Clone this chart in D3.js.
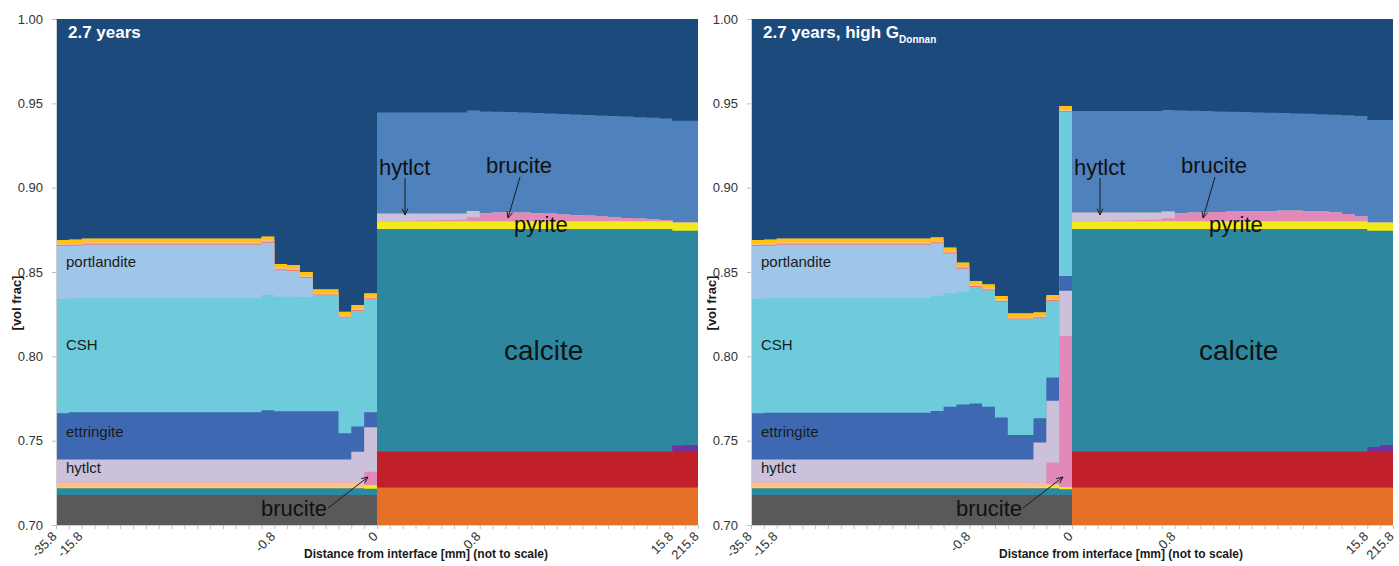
<!DOCTYPE html>
<html>
<head>
<meta charset="utf-8">
<script src="https://cdn.jsdelivr.net/npm/d3@7"></script>
<style>
  body { margin: 0; background: #fff; }
  svg { display: block; font-family: "Liberation Sans", Arial, sans-serif; }
</style>
</head>
<body>
<svg id="chart" width="1399" height="566"></svg>
<script>
// ---- grid: cell edges in mm from the cement/rock interface (non-uniform, not to scale)
const cellEdges = [-35.8, -25.8, -15.8, -14.8, -13.8, -12.8, -11.8, -10.8, -9.8, -8.8, -7.8, -6.8, -5.8, -4.8, -3.8, -2.8, -1.8, -0.8,
  -0.7, -0.6, -0.5, -0.4, -0.3, -0.2, -0.1, 0, 0.1, 0.2, 0.3, 0.4, 0.5, 0.6, 0.7, 0.8,
  1.8, 2.8, 3.8, 4.8, 5.8, 6.8, 7.8, 8.8, 9.8, 10.8, 11.8, 12.8, 13.8, 14.8, 15.8, 115.8, 215.8];
const labelledEdges = ["-35.8", "-15.8", "-0.8", "0", "0.8", "15.8", "215.8"];
const yTicks = [0.70, 0.75, 0.80, 0.85, 0.90, 0.95, 1.00];

// ---- volume fractions per cell (cells 0-24 cement, 25-49 rock)
// phases common to both runs
const inert = [0.7178,0.7178,0.7178,0.7178,0.7178,0.7178,0.7178,0.7178,0.7178,0.7178,0.7178,0.7178,0.7178,0.7178,0.7178,0.7178,0.7178,0.7178,0.7178,0.7178,0.7178,0.7178,0.7178,0.7178,0.7178,
  0,0,0,0,0,0,0,0,0,0,0,0,0,0,0,0,0,0,0,0,0,0,0,0,0];
const quartz = [0,0,0,0,0,0,0,0,0,0,0,0,0,0,0,0,0,0,0,0,0,0,0,0,0,
  0.7222,0.7222,0.7222,0.7222,0.7222,0.7222,0.7222,0.7222,0.7222,0.7222,0.7222,0.7222,0.7222,0.7222,0.7222,0.7222,0.7222,0.7222,0.7222,0.7222,0.7222,0.7222,0.7222,0.7222,0.7222];
const illite = [0,0,0,0,0,0,0,0,0,0,0,0,0,0,0,0,0,0,0,0,0,0,0,0,0,
  0.0213,0.0213,0.0213,0.0213,0.0213,0.0213,0.0213,0.0213,0.0213,0.0213,0.0213,0.0213,0.0213,0.0213,0.0213,0.0213,0.0213,0.0213,0.0213,0.0213,0.0213,0.0213,0.0213,0.0213,0.0213];
const gypsum = [0.0006,0.0006,0.0006,0.0006,0.0006,0.0006,0.0006,0.0006,0.0006,0.0006,0.0006,0.0006,0.0006,0.0006,0.0006,0.0006,0.0006,0.0006,0.0006,0.0006,0.0006,0.0006,0.0006,0.0006,0.0006,
  0,0,0,0,0,0,0,0,0,0,0,0,0,0,0,0,0,0,0,0,0,0,0,0,0];
const friedel = [0.001,0.001,0.001,0.001,0.001,0.001,0.001,0.001,0.001,0.001,0.001,0.001,0.001,0.001,0.001,0.001,0.001,0.001,0.001,0.001,0.001,0.001,0.001,0.001,0.001,
  0,0,0,0,0,0,0,0,0,0,0,0,0,0,0,0,0,0,0,0,0,0,0,0,0];
const gibbsite = [0.002,0.002,0.002,0.002,0.002,0.002,0.002,0.002,0.002,0.002,0.002,0.002,0.002,0.002,0.002,0.002,0.002,0.002,0.002,0.002,0.002,0.002,0.002,0.002,0.002,
  0,0,0,0,0,0,0,0,0,0,0,0,0,0,0,0,0,0,0,0,0,0,0,0,0];

// run A: 2.7 years
const sideriteA = [0,0,0,0,0,0,0,0,0,0,0,0,0,0,0,0,0,0,0,0,0,0,0,0,0,
  0,0,0,0,0,0,0,0,0,0,0,0,0,0,0,0,0,0,0,0,0,0,0,0.0037,0.0039];
const calciteA = [0.004,0.004,0.004,0.004,0.004,0.004,0.004,0.004,0.004,0.004,0.004,0.004,0.004,0.004,0.004,0.004,0.004,0.004,0.004,0.004,0.004,0.004,0.004,0.004,0.0037,
  0.132,0.132,0.132,0.132,0.132,0.132,0.132,0.132,0.132,0.132,0.132,0.132,0.132,0.132,0.132,0.132,0.132,0.132,0.132,0.132,0.132,0.132,0.132,0.1273,0.1271];
const pyriteA = [0.0006,0.0006,0.0006,0.0006,0.0006,0.0006,0.0006,0.0006,0.0006,0.0006,0.0006,0.0006,0.0006,0.0006,0.0006,0.0006,0.0006,0.0006,0.0006,0.0006,0.0006,0.0006,0.0006,0.0006,0.002,
  0.0044,0.0044,0.0044,0.0044,0.0044,0.0044,0.0044,0.0044,0.0044,0.0044,0.0044,0.0044,0.0044,0.0044,0.0044,0.0044,0.0044,0.0044,0.0044,0.0044,0.0044,0.0044,0.0044,0.0047,0.0047];
const monosulfateA = [0.0028,0.0028,0.0028,0.0028,0.0028,0.0028,0.0028,0.0028,0.0028,0.0028,0.0028,0.0028,0.0028,0.0028,0.0028,0.0028,0.0028,0.0028,0.0028,0.0028,0.0028,0.0028,0.0028,0.0028,0,
  0,0,0,0,0,0,0,0,0,0,0,0,0,0,0,0,0,0,0,0,0,0,0,0,0];
const bruciteA = [0,0,0,0,0,0,0,0,0,0,0,0,0,0,0,0,0,0,0,0,0,0,0,0,0.008,
  0.0002,0.0003,0.0005,0.0006,0.0008,0.0009,0.0011,0.0025,0.005,0.0054,0.0054,0.0052,0.005,0.0046,0.0042,0.0038,0.0034,0.003,0.0025,0.0021,0.0017,0.0013,0.0009,0,0];
const hytlctA = [0.0137,0.0137,0.0137,0.0137,0.0137,0.0137,0.0137,0.0137,0.0137,0.0137,0.0137,0.0137,0.0137,0.0137,0.0137,0.0137,0.0137,0.0137,0.0137,0.0137,0.0137,0.0137,0.0137,0.0182,0.0264,
  0.0045,0.0044,0.0042,0.0041,0.0039,0.0038,0.0036,0.0038,0,0,0,0,0,0,0,0,0,0,0,0,0,0,0,0,0];
const ettringiteA = [0.0273,0.0279,0.0279,0.0279,0.0279,0.0279,0.0279,0.0279,0.0279,0.0279,0.0279,0.0279,0.0279,0.0279,0.0279,0.0279,0.0291,0.0286,0.0286,0.0286,0.0286,0.0286,0.0155,0.015,0.0089,
  0,0,0,0,0,0,0,0,0,0,0,0,0,0,0,0,0,0,0,0,0,0,0,0,0];
const cshA = [0.0678,0.0676,0.0676,0.0676,0.0676,0.0676,0.0676,0.0676,0.0676,0.0676,0.0676,0.0676,0.0676,0.0676,0.0676,0.0676,0.0684,0.0679,0.0679,0.0675,0.0686,0.0686,0.0685,0.0684,0.067,
  0,0,0,0,0,0,0,0,0,0,0,0,0,0,0,0,0,0,0,0,0,0,0,0,0];
const portlanditeA = [0.0314,0.0312,0.0318,0.0318,0.0318,0.0318,0.0318,0.0318,0.0318,0.0318,0.0318,0.0318,0.0318,0.0318,0.0318,0.0318,0.031,0.0157,0.0152,0.0114,0,0,0,0,0,
  0,0,0,0,0,0,0,0,0,0,0,0,0,0,0,0,0,0,0,0,0,0,0,0,0];
const dolomiteA = [0,0,0,0,0,0,0,0,0,0,0,0,0,0,0,0,0,0,0,0,0,0,0,0,0,
  0.0599,0.0599,0.0599,0.0599,0.0599,0.0599,0.0599,0.0595,0.0603,0.0597,0.0595,0.0594,0.0593,0.0595,0.0596,0.0597,0.0598,0.0599,0.0601,0.0602,0.0602,0.0602,0.0602,0.0605,0.0605];
const porosityA = [0.131,0.1308,0.1302,0.1302,0.1302,0.1302,0.1302,0.1302,0.1302,0.1302,0.1302,0.1302,0.1302,0.1302,0.1302,0.1302,0.129,0.1453,0.1458,0.15,0.1603,0.1603,0.1735,0.1696,0.1626,
  0.0555,0.0555,0.0555,0.0555,0.0555,0.0555,0.0555,0.0543,0.0548,0.055,0.0552,0.0555,0.0558,0.056,0.0563,0.0566,0.0569,0.0572,0.0575,0.0578,0.0582,0.0586,0.059,0.0603,0.0603];

// run B: 2.7 years, high G_Donnan
const sideriteB = [0,0,0,0,0,0,0,0,0,0,0,0,0,0,0,0,0,0,0,0,0,0,0,0,0,
  0,0,0,0,0,0,0,0,0,0,0,0,0,0,0,0,0,0,0,0,0,0,0,0.0028,0.0039];
const calciteB = [0.004,0.004,0.004,0.004,0.004,0.004,0.004,0.004,0.004,0.004,0.004,0.004,0.004,0.004,0.004,0.004,0.004,0.004,0.004,0.004,0.004,0.004,0.004,0.004,0.0034,
  0.132,0.132,0.132,0.132,0.132,0.132,0.132,0.132,0.132,0.132,0.132,0.132,0.132,0.132,0.132,0.132,0.132,0.132,0.132,0.132,0.132,0.132,0.132,0.1282,0.1271];
const pyriteB = [0.0006,0.0006,0.0006,0.0006,0.0006,0.0006,0.0006,0.0006,0.0006,0.0006,0.0006,0.0006,0.0006,0.0006,0.0006,0.0006,0.0006,0.0006,0.0006,0.0006,0.0006,0.0006,0.0008,0.0012,0.0012,
  0.0044,0.0044,0.0044,0.0044,0.0044,0.0044,0.0044,0.0044,0.0044,0.0044,0.0044,0.0044,0.0044,0.0044,0.0044,0.0044,0.0044,0.0044,0.0044,0.0044,0.0044,0.0044,0.0044,0.0047,0.0047];
const monosulfateB = [0.0028,0.0028,0.0028,0.0028,0.0028,0.0028,0.0028,0.0028,0.0028,0.0028,0.0028,0.0028,0.0028,0.0028,0.0028,0.0028,0.0028,0.0028,0.0028,0.0028,0.0028,0.0028,0.0025,0.0013,0,
  0,0,0,0,0,0,0,0,0,0,0,0,0,0,0,0,0,0,0,0,0,0,0,0,0];
const bruciteB = [0,0,0,0,0,0,0,0,0,0,0,0,0,0,0,0,0,0,0,0,0,0,0,0.0127,0.0897,
  0.0002,0.0004,0.0005,0.0007,0.0008,0.001,0.0011,0.002,0.005,0.0052,0.0054,0.0056,0.0058,0.006,0.0062,0.0063,0.0064,0.0064,0.0062,0.006,0.0055,0.0045,0.003,0,0];
const hytlctB = [0.0137,0.0137,0.0137,0.0137,0.0137,0.0137,0.0137,0.0137,0.0137,0.0137,0.0137,0.0137,0.0137,0.0137,0.0137,0.0137,0.0137,0.0137,0.0137,0.0137,0.0137,0.0137,0.0238,0.0366,0.0268,
  0.0051,0.0049,0.0048,0.0046,0.0045,0.0043,0.0042,0.0039,0,0,0,0,0,0,0,0,0,0,0,0,0,0,0,0,0];
const ettringiteB = [0.0273,0.0277,0.0277,0.0277,0.0277,0.0277,0.0277,0.0277,0.0277,0.0277,0.0277,0.0277,0.0277,0.0277,0.0287,0.0312,0.0326,0.0332,0.0312,0.0248,0.0145,0.0145,0.0144,0.0139,0.0087,
  0,0,0,0,0,0,0,0,0,0,0,0,0,0,0,0,0,0,0,0,0,0,0,0,0];
const cshB = [0.0678,0.0678,0.0678,0.0678,0.0678,0.0678,0.0678,0.0678,0.0678,0.0678,0.0678,0.0678,0.0678,0.0678,0.0683,0.0673,0.0668,0.069,0.069,0.0685,0.0685,0.0685,0.0592,0.0453,0.0972,
  0,0,0,0,0,0,0,0,0,0,0,0,0,0,0,0,0,0,0,0,0,0,0,0,0];
const portlanditeB = [0.0314,0.0312,0.0318,0.0318,0.0318,0.0318,0.0318,0.0318,0.0318,0.0318,0.0318,0.0318,0.0318,0.0318,0.0311,0.0236,0.0137,0,0,0,0,0,0,0,0,
  0,0,0,0,0,0,0,0,0,0,0,0,0,0,0,0,0,0,0,0,0,0,0,0,0];
const dolomiteB = [0,0,0,0,0,0,0,0,0,0,0,0,0,0,0,0,0,0,0,0,0,0,0,0,0,
  0.0603,0.0603,0.0603,0.0603,0.0603,0.0603,0.0603,0.0602,0.0609,0.0605,0.0601,0.0597,0.0593,0.0589,0.0585,0.0582,0.0579,0.0577,0.0577,0.0577,0.0579,0.0586,0.0596,0.0609,0.0609];
const porosityB = [0.131,0.1308,0.1302,0.1302,0.1302,0.1302,0.1302,0.1302,0.1302,0.1302,0.1302,0.1302,0.1302,0.1302,0.1294,0.1354,0.1444,0.1553,0.1573,0.1642,0.1745,0.1745,0.1739,0.1636,0.0516,
  0.0545,0.0545,0.0545,0.0545,0.0545,0.0545,0.0545,0.054,0.0542,0.0544,0.0546,0.0548,0.055,0.0552,0.0554,0.0556,0.0558,0.056,0.0562,0.0564,0.0567,0.057,0.0575,0.0599,0.0599];

// ---- stacking order (bottom to top) and fill colours
const phases = ["inert", "quartz", "illite", "siderite", "calcite", "pyrite", "monosulfate", "brucite", "hytlct",
  "ettringite", "CSH", "portlandite", "gypsum", "friedel", "gibbsite", "dolomite", "porosity"];
const phaseColor = {
  inert: "#595959", quartz: "#e46f26", illite: "#c1202b", siderite: "#7132a0", calcite: "#2d879f",
  pyrite: "#f3ea1b", monosulfate: "#fbc090", brucite: "#e389ba", hytlct: "#ccc1db", ettringite: "#3e69b2",
  CSH: "#6ecbdc", portlandite: "#9fc5e8", gypsum: "#ef7c6c", friedel: "#fbbd86", gibbsite: "#ffc20e",
  dolomite: "#4f81bd", porosity: "#1d4a7c"
};

const runA = { inert, quartz, illite, siderite: sideriteA, calcite: calciteA, pyrite: pyriteA, monosulfate: monosulfateA,
  brucite: bruciteA, hytlct: hytlctA, ettringite: ettringiteA, CSH: cshA, portlandite: portlanditeA,
  gypsum, friedel, gibbsite, dolomite: dolomiteA, porosity: porosityA };
const runB = { inert, quartz, illite, siderite: sideriteB, calcite: calciteB, pyrite: pyriteB, monosulfate: monosulfateB,
  brucite: bruciteB, hytlct: hytlctB, ettringite: ettringiteB, CSH: cshB, portlandite: portlanditeB,
  gypsum, friedel, gibbsite, dolomite: dolomiteB, porosity: porosityB };

// ---- layout
const svg = d3.select("#chart");
const plotW = 642, plotH = 506, plotTop = 19;

const x = d3.scalePoint().domain(cellEdges).range([0, plotW]);
const y = d3.scaleLinear().domain([0.70, 1.00]).range([plotH, 0]);

function arrow(g, x1, y1, x2, y2) {
  const a = Math.atan2(y2 - y1, x2 - x1), len = 7, spread = 0.42;
  const p = d3.path();
  p.moveTo(x1, y1); p.lineTo(x2, y2);
  p.moveTo(x2 - len * Math.cos(a - spread), y2 - len * Math.sin(a - spread));
  p.lineTo(x2, y2);
  p.lineTo(x2 - len * Math.cos(a + spread), y2 - len * Math.sin(a + spread));
  g.append("path").attr("d", p.toString()).attr("fill", "none").attr("stroke", "#1a1a1a").attr("stroke-width", 1);
}

function drawPanel(left, run, id, titleParts) {
  const g = svg.append("g").attr("transform", `translate(${left},${plotTop})`);

  g.append("clipPath").attr("id", id).append("rect").attr("width", plotW).attr("height", plotH);

  const rows = d3.range(cellEdges.length - 1).map(i => {
    const r = {};
    phases.forEach(p => { r[p] = run[p][i]; });
    return r;
  });
  const stacked = d3.stack().keys(phases)(rows);

  // each layer is filled from its top down to the base; painting top layers first avoids seams
  const area = d3.area()
    .curve(d3.curveStepAfter)
    .x((d, i) => x(cellEdges[i]))
    .y0(plotH + 10)
    .y1(d => y(d[1]));

  g.append("g").attr("clip-path", `url(#${id})`)
    .selectAll("path")
    .data(stacked.slice().reverse())
    .join("path")
    .attr("fill", d => phaseColor[d.key])
    .attr("d", d => area([...d, d[d.length - 1]]));

  // y axis
  const ya = g.append("g")
    .call(d3.axisLeft(y).tickValues(yTicks).tickFormat(d3.format(".2f")).tickSize(4).tickPadding(9).tickSizeOuter(0));
  ya.select(".domain").attr("stroke", "#d0d0d0");
  ya.selectAll(".tick line").attr("stroke", "#bfbfbf");
  ya.selectAll(".tick text").attr("font-size", 13).attr("fill", "#333")
    .attr("font-family", "'Liberation Sans', Arial, sans-serif");

  // x axis: a tick at every cell edge, labels only at selected edges
  const xa = g.append("g").attr("transform", `translate(0,${plotH})`)
    .call(d3.axisBottom(x).tickValues(cellEdges).tickSize(4).tickSizeOuter(0)
      .tickFormat(d => labelledEdges.includes(String(d)) ? String(d) : ""));
  xa.select(".domain").attr("stroke", "#d0d0d0");
  xa.selectAll(".tick line").attr("stroke", "#bfbfbf");
  xa.selectAll(".tick text")
    .attr("font-size", 13).attr("fill", "#333")
    .attr("font-family", "'Liberation Sans', Arial, sans-serif")
    .attr("text-anchor", "end")
    .attr("x", 0).attr("y", 0).attr("dy", "0.35em")
    .attr("transform", "translate(-2,9) rotate(-45)");

  // axis titles
  g.append("text")
    .attr("transform", `translate(-35,${303 - plotTop}) rotate(-90)`)
    .attr("text-anchor", "middle").attr("font-size", 13).attr("font-weight", "bold").attr("fill", "#1a1a1a")
    .text("[vol frac]");
  g.append("text")
    .attr("x", 370).attr("y", 558 - plotTop)
    .attr("text-anchor", "middle").attr("font-size", 12).attr("font-weight", "bold").attr("fill", "#1a1a1a")
    .text("Distance from interface [mm] (not to scale)");

  // panel title
  const t = g.append("text").attr("x", 12).attr("y", 19)
    .attr("fill", "#fff").attr("font-weight", "bold").attr("font-size", 17);
  t.append("tspan").text(titleParts[0]);
  if (titleParts[1]) {
    t.append("tspan").attr("font-size", 10).attr("dy", 5).text(titleParts[1]);
  }

  // phase labels in the cement
  const small = [["portlandite", 0.8531], ["CSH", 0.8038], ["ettringite", 0.7524], ["hytlct", 0.7308]];
  g.selectAll("text.phase").data(small).join("text").attr("class", "phase")
    .attr("x", 10).attr("y", d => y(d[1]))
    .attr("font-size", 15).attr("fill", "#1a1a1a")
    .text(d => d[0]);

  // phase labels at the interface
  const big = g.append("g").attr("font-size", 22).attr("fill", "#111");
  big.append("text").attr("x", 323).attr("y", 156).text("hytlct");
  big.append("text").attr("x", 430).attr("y", 154).text("brucite");
  big.append("text").attr("x", 458).attr("y", 213).text("pyrite");
  big.append("text").attr("x", 448).attr("y", 341).attr("font-size", 28).text("calcite");
  big.append("text").attr("x", 205).attr("y", 497).text("brucite");

  arrow(g, 349, 159, 349, 196);
  arrow(g, 464, 158, 452, 199);
  arrow(g, 272, 489, 312, 458);
}

drawPanel(56, runA, "clipA", ["2.7 years"]);
drawPanel(751, runB, "clipB", ["2.7 years, high G", "Donnan"]);
</script>
</body>
</html>
